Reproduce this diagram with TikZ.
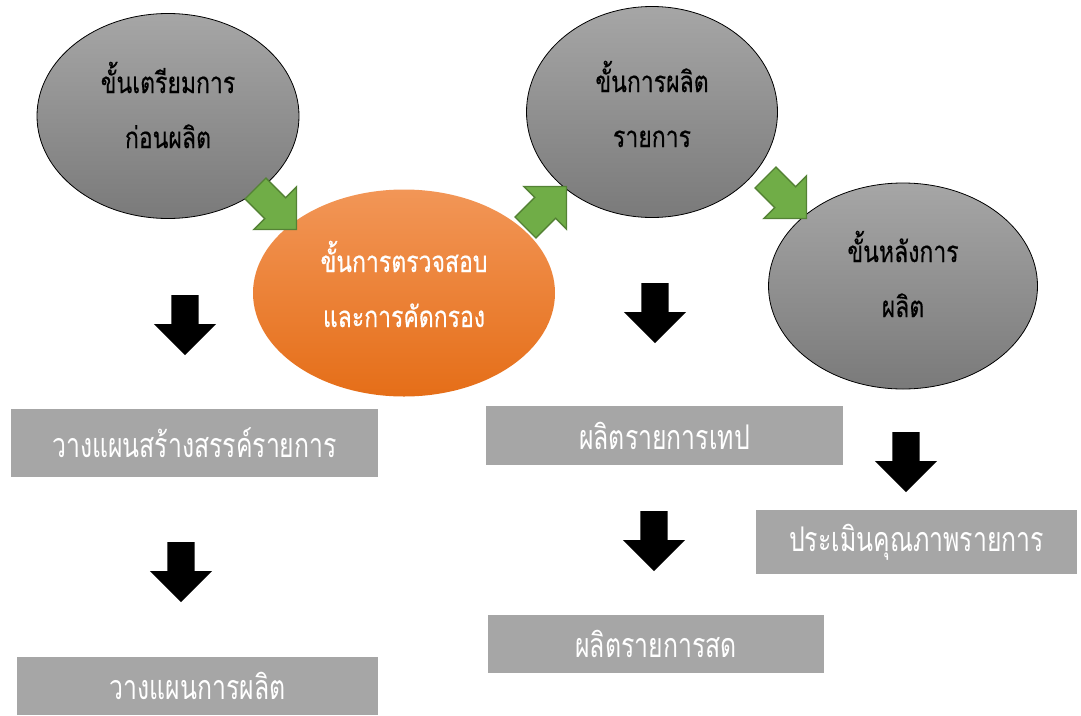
\documentclass[tikz,border=0pt]{standalone}
\usepackage{fontspec}
\newfontfamily\thaifont[Script=Thai,FakeStretch=0.78,FakeBold=0.4]{Loma}
\newfontfamily\thaithin[Script=Thai,FakeStretch=0.73]{Loma}
\usepackage{tikz}
\usetikzlibrary{shapes.geometric,shapes.arrows}

\definecolor{graytop}{HTML}{A6A6A6}
\definecolor{graybot}{HTML}{7A7A7A}
\definecolor{orangetop}{HTML}{F29657}
\definecolor{orangebot}{HTML}{E56E18}
\definecolor{boxgray}{HTML}{A6A6A6}
\definecolor{flowgreen}{HTML}{70AD47}
\definecolor{flowgreenline}{HTML}{548235}

\begin{document}
\begin{tikzpicture}[x=1pt, y=-1pt,
    phase/.style={ellipse, draw=black, line width=0.8pt, top color=graytop, bottom color=graybot, inner sep=0pt},
    hotphase/.style={ellipse, draw=none, top color=orangetop, bottom color=orangebot, inner sep=0pt},
    phasetext/.style={font=\thaifont\fontsize{29.5}{55}\selectfont, align=center},
    taskbox/.style={rectangle, fill=boxgray, text=white, font=\thaithin\fontsize{34}{36}\selectfont, inner sep=0pt},
    flowarrow/.style={single arrow, fill=flowgreen, draw=flowgreenline, line width=1.4pt, inner xsep=0pt, inner ysep=14pt, single arrow head extend=15.5pt, minimum height=58pt, anchor=tail},
    downarrow/.style={single arrow, fill=black, inner xsep=0pt, inner ysep=13.5pt, single arrow head extend=17.5pt, minimum height=60pt, anchor=tail, rotate=-90}]
    \useasboundingbox (0,0) rectangle (1081,715);

    \node[phase, minimum width=262pt, minimum height=205pt]    (prep) at (168,116) {};
    \node[hotphase, minimum width=302pt, minimum height=207pt] (check) at (404,293) {};
    \node[phase, minimum width=251pt, minimum height=211pt]    (prod) at (652,112) {};
    \node[phase, minimum width=269pt, minimum height=206pt]    (post) at (903,286) {};

    \node[phasetext]             (prep-text)  at (168,105) {ขั้นเตรียมการ\\ก่อนผลิต};
    \node[phasetext, text=white] (check-text) at (404,284) {ขั้นการตรวจสอบ\\และการคัดกรอง};
    \node[phasetext]             (prod-text)  at (652,104) {ขั้นการผลิต\\รายการ};
    \node[phasetext]             (post-text)  at (903,274) {ขั้นหลังการ\\ผลิต};

    \node[flowarrow, rotate=-45] (prep-check) at (255,188) {};
    \node[flowarrow, rotate=45]  (check-prod) at (525,228) {};
    \node[flowarrow, rotate=-45] (prod-post)  at (765,177) {};

    \node[taskbox, minimum width=367pt, minimum height=68pt] (plan)   at (194.5,443) {วางแผนสร้างสรรค์รายการ};
    \node[taskbox, minimum width=361pt, minimum height=58pt] (plan2)  at (197.5,686) {วางแผนการผลิต};
    \node[taskbox, minimum width=357pt, minimum height=59pt] (tape)   at (664.5,435.5) {ผลิตรายการเทป};
    \node[taskbox, minimum width=336pt, minimum height=58pt] (live)   at (656,644) {ผลิตรายการสด};
    \node[taskbox, minimum width=321pt, minimum height=64pt] (assess) at (916.5,542) {ประเมินคุณภาพรายการ};

    \node[downarrow] (prep-plan)   at (185,295) {};
    \node[downarrow] (plan-plan2)  at (181,542) {};
    \node[downarrow] (prod-tape)   at (655,283) {};
    \node[downarrow] (tape-live)   at (654,511) {};
    \node[downarrow] (post-assess) at (906,432) {};
\end{tikzpicture}
\end{document}
